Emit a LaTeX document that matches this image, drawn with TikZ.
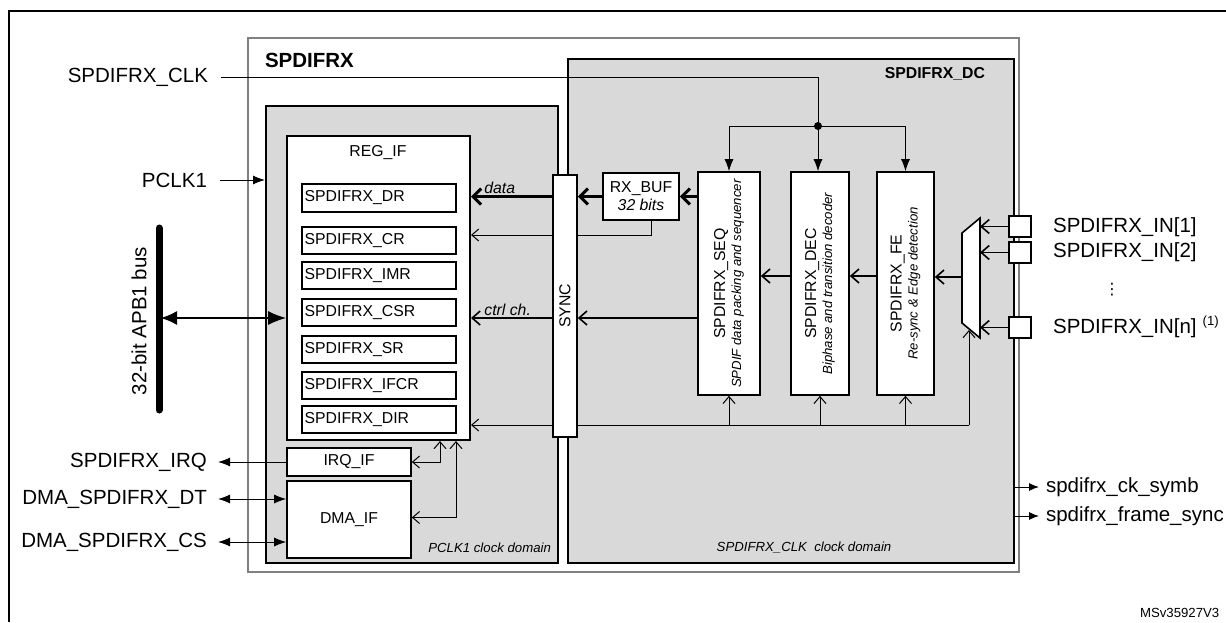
\documentclass[tikz,border=0pt]{standalone}
\usepackage{fontspec}
\setmainfont{Liberation Sans}
\newfontfamily\simboli{DejaVu Sans}
\usetikzlibrary{arrows.meta,fit}
\definecolor{grigiodom}{HTML}{D9D9D9}
\newcommand{\grande}{\fontsize{10.25}{12}\selectfont}
\newcommand{\medio}{\fontsize{7.9}{9}\selectfont}
\newcommand{\piccolo}{\fontsize{6.6}{8}\selectfont}
\tikzset{
  blocco/.style={draw, line width=0.8pt, fill=white, inner sep=0pt},
  dominio/.style={draw, line width=1pt, fill=grigiodom, inner sep=0pt},
  registro/.style={draw, line width=0.75pt, fill=white, inner sep=0pt},
  filo/.style={line width=0.5pt},
  frecciafine/.style={line width=0.5pt, -{Straight Barb[length=3.5pt,width=6pt]}},
  frecciamedia/.style={line width=0.8pt, -{Straight Barb[length=4pt,width=7pt]}},
  frecciadati/.style={line width=1.5pt, -{Straight Barb[length=4pt,width=8pt]}},
  freccianera/.style={line width=0.5pt, -{Latex[length=6pt,width=4.5pt]}},
  doppianera/.style={line width=0.5pt, {Latex[length=6pt,width=4.5pt]}-{Latex[length=6pt,width=4.5pt]}},
}
\begin{document}
\begin{tikzpicture}[x=0.5pt, y=-0.5pt]
        \useasboundingbox (0,0) rectangle (1226,622);
        % Cornice esterna
        \draw[line width=1pt] (9,622) -- (9,11) -- (1226,11);

        % Blocco SPDIFRX e domini di clock
        \node[draw=black!50, line width=0.6pt, fill=white, inner sep=0pt, fit={(248,38) (1019,572)}] (spdifrx) {};
        \node[font=\grande\bfseries, anchor=west] (spdifrxlbl) at (258,60) {SPDIFRX};
        \node[dominio, fit={(266,106) (558,563)}] (pclkdom) {};
        \node[dominio, fit={(568,59) (1014,563)}] (clkdom) {};
        \node[font=\medio\bfseries, anchor=east] (dclbl) at (992,74) {SPDIFRX\_DC};
        \node[font=\piccolo\itshape, anchor=east] (pclkdomlbl) at (558,548) {PCLK1 clock domain};
        \node[font=\piccolo\itshape] (clkdomlbl) at (804,548) {SPDIFRX\_CLK\ \ clock domain};

        % Registri
        \node[blocco, line width=1pt, fit={(287,136) (470,440)}] (regif) {};
        \node[font=\medio] (regiflbl) at (378,153) {REG\_IF};
        \foreach \n/\t/\ya/\yb in {dr/DR/184/212, cr/CR/227/254, imr/IMR/262/289, csr/CSR/299/326,
                                   sr/SR/336/363, ifcr/IFCR/372/399, dir/DIR/406/433}{
            \node[registro, fit={(302,\ya) (456,\yb)}] (\n) {};
            \node[font=\medio, anchor=west, inner sep=1.5pt] (\n txt) at (\n.west) {SPDIFRX\_\t};
        }
        \node[blocco, fit={(287,448) (411,476)}] (irqif) {};
        \node[font=\medio] (irqiflbl) at (irqif.center) {IRQ\_IF};
        \node[blocco, fit={(287,481) (411,558)}] (dmaif) {};
        \node[font=\medio] (dmaiflbl) at (dmaif.center) {DMA\_IF};

        % Blocchi del dominio SPDIFRX_CLK
        \node[blocco, fit={(603,173) (679,220)}] (rxbuf) {};
        \node[align=center, font=\medio] (rxbuflbl) at (rxbuf.center) {RX\_BUF\\\textit{32 bits}};
        \node[blocco, fit={(698,172) (760,395)}] (seq) {};
        \node[blocco, fit={(791,172) (849,395)}] (dec) {};
        \node[blocco, fit={(877,172) (934,395)}] (fe) {};
        \node[rotate=90, align=center, font=\piccolo] (seqlbl) at (seq.center)
            {{\medio SPDIFRX\_SEQ}\\\textit{SPDIF data packing and sequencer}};
        \node[rotate=90, align=center, font=\piccolo] (declbl) at (dec.center)
            {{\medio SPDIFRX\_DEC}\\\textit{Biphase and transition decoder}};
        \node[rotate=90, align=center, font=\piccolo] (felbl) at (fe.center)
            {{\medio SPDIFRX\_FE}\\\textit{Re-sync \& Edge detection}};

        % Multiplexer e ingressi
        \coordinate (muxout) at (962,277);
        \coordinate (muxin) at (980,277);
        \coordinate (muxbot) at (969,330);
        \draw[fill=white, line width=0.8pt] (962,233) -- (980,218) -- (980,338) -- (962,323) -- cycle;
        \foreach \n/\ya/\yb in {in1/216/237, in2/242/263, inn/317/338}{
            \node[blocco, line width=1pt, fit={(1009,\ya) (1031,\yb)}] (\n) {};
            \draw[frecciamedia] (\n.west) -- (\n.west -| muxin);
        }
        \node[font=\grande, anchor=west] (in1lbl) at (1046,227) {SPDIFRX\_IN[1]};
        \node[font=\grande, anchor=west] (in2lbl) at (1046,252) {SPDIFRX\_IN[2]};
        \node[font=\medio\simboli] (puntini) at (1112,290) {⋮};
        \node[font=\grande, anchor=west] (innlbl) at (1046,327)
            {SPDIFRX\_IN[n]\hspace{3pt}\raisebox{4pt}{\piccolo (1)}};

        % Linee che passano dietro a SYNC
        \coordinate (ctrlbus) at (969,425);
        \draw[frecciafine] ([xshift=5pt]rxbuf.south) |- ([yshift=2.75pt]cr.east -| regif.east);
        \draw[frecciafine] (ctrlbus) -- (ctrlbus -| regif.east);
        \draw[frecciafine] (ctrlbus) -- (muxbot);
        \foreach \b in {seq,dec,fe}
            \draw[frecciafine] (ctrlbus -| \b.south) -- (\b.south);

        \node[blocco, fit={(553,175) (577,437)}] (sync) {};
        \node[rotate=90, font=\medio] (synclbl) at (sync.center) {SYNC};

        % Clock SPDIFRX_CLK
        \node[font=\grande, anchor=east] (clklbl) at (215,77) {SPDIFRX\_CLK};
        \coordinate (nodo) at (818,126);
        \draw[filo] ([xshift=3pt]clklbl.east) -| (nodo);
        \fill (nodo) circle (2pt);
        \draw[freccianera] (nodo) -| (seq.north);
        \draw[freccianera] (nodo) -- (nodo |- dec.north);
        \draw[freccianera] (nodo) -| (fe.north);

        % PCLK1 e bus APB1
        \node[font=\grande, anchor=east] (pclklbl) at (214,180) {PCLK1};
        \draw[freccianera] ([xshift=3pt]pclklbl.east) -- (pclklbl.east -| pclkdom.west);
        \coordinate (bustop) at (159,228);
        \coordinate (busbot) at (159,410);
        \coordinate (busport) at (161,318);
        \draw[line width=3.5pt, line cap=round] (bustop) -- (busbot);
        \node[font=\grande, rotate=90] (buslbl) at (139,321) {32-bit APB1 bus};
        \draw[line width=0.6pt, {Latex[length=8pt,width=7pt]}-{Latex[length=9pt,width=7pt]}]
            (busport) -- (busport -| regif.west);

        % Segnali verso il DMA e interrupt
        \node[font=\grande, anchor=east] (irqlbl) at (214,462) {SPDIFRX\_IRQ};
        \node[font=\grande, anchor=east] (dtlbl) at (214,499) {DMA\_SPDIFRX\_DT};
        \node[font=\grande, anchor=east] (cslbl) at (214,542) {DMA\_SPDIFRX\_CS};
        \draw[freccianera] (irqif.west) -- ([xshift=2pt]irqlbl.east);
        \draw[doppianera] ([xshift=2pt]dtlbl.east) -- (dtlbl.east -| dmaif.west);
        \draw[doppianera] ([xshift=2pt]cslbl.east) -- (cslbl.east -| dmaif.west);
        \draw[filo, {Straight Barb[length=3.5pt,width=6pt]}-{Straight Barb[length=3.5pt,width=6pt]}]
            (irqif.east) -| ([xshift=-15.5pt]regif.south east);
        \draw[filo, {Straight Barb[length=3.5pt,width=6pt]}-{Straight Barb[length=3.5pt,width=6pt]}]
            ([yshift=1pt]dmaif.east) -| ([xshift=-7.5pt]regif.south east);

        % Percorso dati e canale di controllo
        \draw[frecciadati] (seq.west |- rxbuf.east) -- (rxbuf.east);
        \draw[frecciadati] (rxbuf.west) -- (rxbuf.west -| sync.east);
        \draw[frecciadati] (rxbuf.west -| sync.west) -- (rxbuf.west -| regif.east);
        \node[font=\medio\itshape, anchor=south west, inner sep=1pt] (datalbl)
            at ([xshift=5.5pt]rxbuf.west -| regif.east) {data};
        \draw[frecciamedia] (seq.west |- busport) -- (busport -| sync.east);
        \draw[frecciamedia] (busport -| sync.west) -- (busport -| regif.east);
        \node[font=\medio\itshape, anchor=south west, inner sep=1pt] (ctrllbl)
            at ([xshift=5.5pt]busport -| regif.east) {ctrl ch.};
        \draw[frecciamedia] ([yshift=3.75pt]dec.west) -- ([yshift=3.75pt]seq.east);
        \draw[frecciamedia] ([yshift=3.75pt]fe.west) -- ([yshift=3.75pt]dec.east);
        \draw[frecciamedia] (muxout) -- (muxout -| fe.east);

        % Uscite
        \node[font=\grande, anchor=west] (cksymb) at (1039,487) {spdifrx\_ck\_symb};
        \node[font=\grande, anchor=west] (framesync) at (1039,516) {spdifrx\_frame\_sync};
        \draw[line width=0.5pt, -{Latex[length=5pt,width=4pt]}] (cksymb.west -| clkdom.east) -- (cksymb.west);
        \draw[line width=0.5pt, -{Latex[length=5pt,width=4pt]}] (framesync.west -| clkdom.east) -- (framesync.west);

        \node[font=\piccolo, anchor=west] (msv) at (1133,613) {MSv35927V3};
    \end{tikzpicture}
\end{document}
